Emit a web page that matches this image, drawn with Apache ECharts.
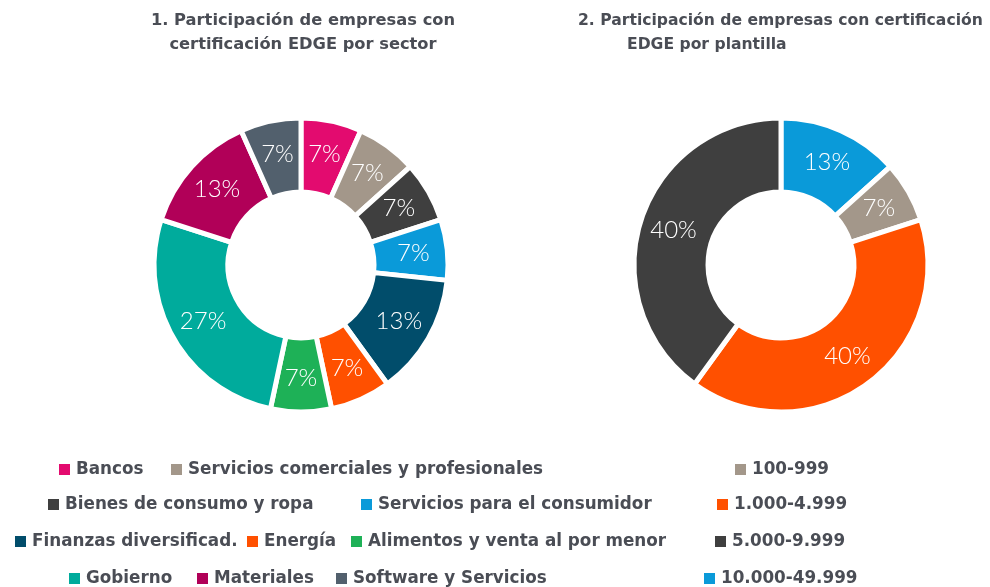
<!DOCTYPE html>
<html>
<head>
<meta charset="utf-8">
<script src="https://cdn.jsdelivr.net/npm/echarts@6/dist/echarts.min.js"></script>
<style>
  html, body { margin: 0; padding: 0; background: #fff; }
  #chart { width: 990px; height: 587px; }
</style>
</head>
<body>
<div id="chart"></div>
<script>
// sector donut
const sectorNames = ['Bancos', 'Servicios comerciales y profesionales', 'Bienes de consumo y ropa',
  'Servicios para el consumidor', 'Finanzas diversificad.', 'Energía', 'Alimentos y venta al por menor',
  'Gobierno', 'Materiales', 'Software y Servicios']
const sectorCounts = [1, 1, 1, 1, 2, 1, 1, 4, 2, 1]
const sectorColors = ['#e30b6f', '#a3978a', '#3f3f3f', '#0a9ad9', '#014d6b', '#ff5000', '#1eb157',
  '#00ab9c', '#b10058', '#52606d']

// headcount donut
const staffNames = ['10.000-49.999', '100-999', '1.000-4.999', '5.000-9.999']
const staffCounts = [2, 1, 6, 6]
const staffColors = ['#0a9ad9', '#a3978a', '#ff5000', '#3f3f3f']

// legend placement (one legend per item, square position)
const sectorLegendPos = [[57, 0], [169, 0], [46, 1], [359, 1], [13, 2], [245, 2], [349, 2], [67, 3], [195, 3], [334, 3]]
const staffLegendOrder = ['100-999', '1.000-4.999', '5.000-9.999', '10.000-49.999']
const staffLegendLeft = [733, 715, 713, 702]

const textColor = '#4a4d55'
const fontFamily = 'DejaVu Sans'
const rowTops = [461, 496, 533, 570]

const chart = echarts.init(document.getElementById('chart'))

const legendBase = {
  icon: 'rect',
  itemWidth: 13,
  itemHeight: 13,
  padding: 0,
  selectedMode: false,
  textStyle: { color: textColor, fontSize: 16.8, fontWeight: 'bold', fontFamily: fontFamily, padding: [0, 0, 0, 0] }
}

const legends = []
sectorNames.forEach((n, i) => {
  legends.push(Object.assign({}, legendBase, {
    data: [n], left: sectorLegendPos[i][0], top: rowTops[sectorLegendPos[i][1]]
  }))
})
staffLegendOrder.forEach((n, i) => {
  legends.push(Object.assign({}, legendBase, {
    data: [n], left: staffLegendLeft[i], top: rowTops[i]
  }))
})

function makeData(names, counts, colors) {
  return names.map((n, i) => ({ name: n, value: counts[i], itemStyle: { color: colors[i] } }))
}

const seriesBase = {
  type: 'pie',
  radius: [73, 147],
  startAngle: 90,
  clockwise: true,
  avoidLabelOverlap: false,
  itemStyle: { borderColor: '#fff', borderWidth: 5 },
  label: {
    show: true,
    position: 'inside',
    color: '#fff',
    fontSize: 24,
    fontFamily: 'Lato',
    fontWeight: 300,
    formatter: p => Math.round(p.percent) + '%'
  },
  labelLine: { show: false },
  emphasis: { disabled: true }
}

const titleStyle = { color: textColor, fontSize: 16, fontWeight: 'bold', fontFamily: fontFamily, lineHeight: 24 }

chart.setOption({
  animation: false,
  title: [
    {
      text: '1. Participación de empresas con\ncertificación EDGE por sector',
      left: 303, top: 9, padding: 0, textAlign: 'center',
      textStyle: Object.assign({}, titleStyle, { fontSize: 16.3, align: 'center' })
    },
    {
      text: '2. Participación de empresas con certificación',
      left: 578, top: 9, padding: 0,
      textStyle: Object.assign({}, titleStyle, { fontSize: 15.6 })
    },
    {
      text: 'EDGE por plantilla',
      left: 627, top: 33, padding: 0,
      textStyle: Object.assign({}, titleStyle, { fontSize: 15.6 })
    }
  ],
  legend: legends,
  series: [
    Object.assign({}, seriesBase, {
      name: 'sector',
      center: [301, 265],
      data: makeData(sectorNames, sectorCounts, sectorColors)
    }),
    Object.assign({}, seriesBase, {
      name: 'plantilla',
      center: [781, 265],
      data: makeData(staffNames, staffCounts, staffColors)
    })
  ]
})
</script>
</body>
</html>
